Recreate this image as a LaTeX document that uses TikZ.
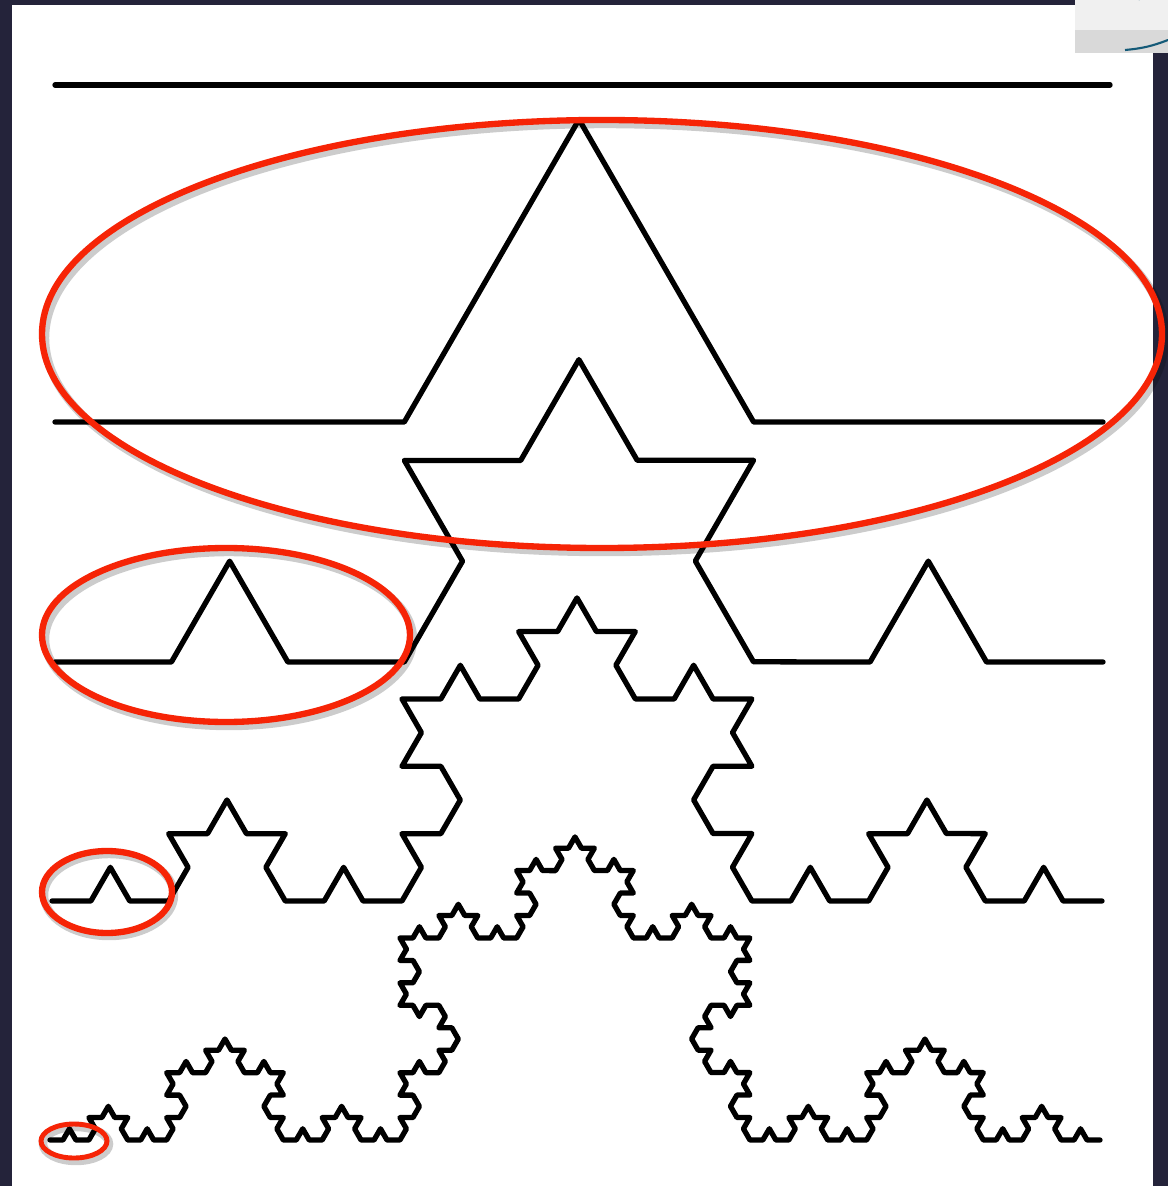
\documentclass[tikz,border=0pt]{standalone}
\usepackage{xcolor}
\usetikzlibrary{decorations.fractals}

\definecolor{slide}{RGB}{36,35,58}
\definecolor{mark}{RGB}{246,36,6}
\definecolor{logo}{RGB}{20,90,120}

\begin{document}
\begin{tikzpicture}[x=0.01cm, y=-0.01cm,
  koch/.style={line width=1.5pt, line join=round, line cap=round,
               decoration={Koch snowflake}},
  ring/.style={draw=mark, line width=1.8pt},
  shade/.style={draw=black, opacity=0.2, line width=2.4pt}]
\useasboundingbox (0,0) rectangle (1168,1186);
\fill[slide] (0,0) rectangle (1168,1186);
\fill[white] (12,5) rectangle (1153,1186);
% corner of the next slide
\fill[gray!12] (1075,0) rectangle (1168,53);
\fill[gray!30] (1075,30) rectangle (1168,53);
\draw[logo, line width=0.8pt] (1140,0) arc[start angle=0, end angle=-50, radius=25];
\draw[logo, line width=0.6pt] (1125,50) to[bend right=8] (1168,40);

% Koch curve, levels 0 to 4
\coordinate (k0l) at (55,85);   \coordinate (k0r) at (1110,85);
\coordinate (k1l) at (55,422);  \coordinate (k1r) at (1103,422);
\coordinate (k2l) at (55,662);  \coordinate (k2r) at (1103,662);
\coordinate (k3l) at (52,901);  \coordinate (k3r) at (1102,901);
\coordinate (k4l) at (50,1140); \coordinate (k4r) at (1100,1140);
\draw[koch] (k0l) -- (k0r);
\draw[koch] decorate{ (k1l) -- (k1r) };
\draw[koch] decorate{ decorate{ (k2l) -- (k2r) }};
\draw[koch] decorate{ decorate{ decorate{ (k3l) -- (k3r) }}};
\draw[koch] decorate{ decorate{ decorate{ decorate{ (k4l) -- (k4r) }}}};

% red rings
\coordinate (r1) at (602,334);
\coordinate (r2) at (226,635);
\coordinate (r3) at (107,892);
\coordinate (r4) at (74,1141);
\draw[shade] ([shift={(3,4)}]r1) ellipse [x radius=560, y radius=214];
\draw[shade] ([shift={(3,4)}]r2) ellipse [x radius=184, y radius=87];
\draw[shade] ([shift={(2,3)}]r3) ellipse [x radius=65, y radius=41];
\draw[shade] ([shift={(2,3)}]r4) ellipse [x radius=33, y radius=17];
\draw[ring] (r1) ellipse [x radius=560, y radius=214];
\draw[ring] (r2) ellipse [x radius=184, y radius=87];
\draw[ring] (r3) ellipse [x radius=65, y radius=41];
\draw[ring, line width=1.4pt] (r4) ellipse [x radius=33, y radius=17];
\end{tikzpicture}
\end{document}
